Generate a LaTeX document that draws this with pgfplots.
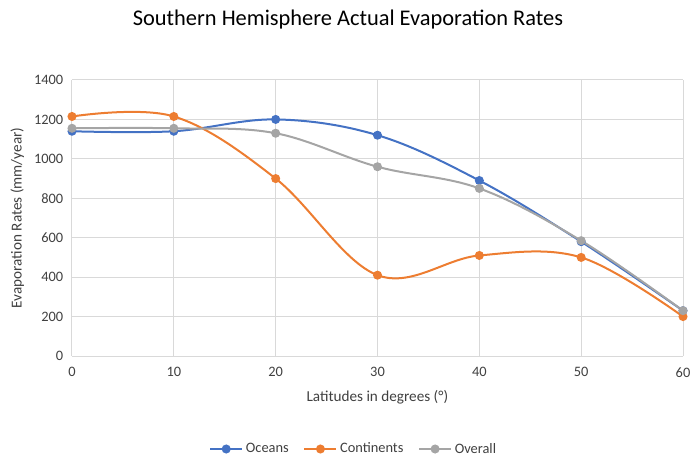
\documentclass[border=0pt]{standalone}
\usepackage{pgfplots}
\pgfplotsset{compat=1.18}
\usepackage{fontspec}
\setmainfont{Carlito}
\definecolor{cOce}{HTML}{4472C4}
\definecolor{cCon}{HTML}{ED7D31}
\definecolor{cOve}{HTML}{A5A5A5}
\definecolor{cGrid}{HTML}{D9D9D9}
\definecolor{cTxt}{HTML}{404040}
\begin{document}
\begin{tikzpicture}
\path[use as bounding box] (-54pt,-83.25pt) rectangle (468pt,267pt);
\begin{axis}[
  at={(0,0)}, anchor=south west,
  scale only axis, width=458.25pt, height=207pt,
  xmin=0, xmax=60, ymin=0, ymax=1400,
  xtick={0,10,...,60}, ytick={0,200,...,1400},
  grid=major, major grid style={cGrid, line width=0.75pt},
  axis line style={draw=none},
  major tick length=0pt,
  tick label style={font=\fontsize{10.8}{13}\selectfont, text=cTxt},
  /pgf/number format/assume math mode=true,
  /pgf/number format/set thousands separator={},
  xticklabel style={yshift=-5pt},
  yticklabel style={xshift=-3pt},
  legend columns=3,
  legend style={at={(0.4615,-0.337)}, anchor=center, draw=none, font=\fontsize{10.8}{13}\selectfont, text=cTxt, /tikz/every even column/.append style={column sep=9pt}},
  legend image code/.code={\draw[#1, mark=none] (0pt,0pt) -- (24pt,0pt); \path[#1] plot coordinates {(12pt,0pt)};},
  every axis plot/.append style={line width=1.5pt, smooth, tension=0.6, mark=*, mark size=2.6pt, mark options={solid}},
  clip=false,
]
\addplot[cOce, mark options={fill=cOce, draw=cOce}] coordinates {(0,1140) (10,1140) (20,1200) (30,1120) (40,890) (50,580) (60,230)};
\addlegendentry{Oceans}
\addplot[cCon, mark options={fill=cCon, draw=cCon}] coordinates {(0,1215) (10,1215) (20,900) (30,410) (40,510) (50,500) (60,200)};
\addlegendentry{Continents}
\addplot[cOve, mark options={fill=cOve, draw=cOve}] coordinates {(0,1155) (10,1155) (20,1130) (30,960) (40,850) (50,585) (60,230)};
\addlegendentry{Overall}
\end{axis}
\node[font=\fontsize{16.8}{20}\selectfont, text=black] at (207pt,252pt) {Southern Hemisphere Actual Evaporation Rates};
\node[font=\fontsize{11.4}{13}\selectfont, text=cTxt, rotate=90] at (-41pt,103.5pt) {Evaporation Rates (mm/year)};
\node[font=\fontsize{11.4}{13}\selectfont, text=cTxt] at (229pt,-30.75pt) {Latitudes in degrees (°)};
\end{tikzpicture}
\end{document}
